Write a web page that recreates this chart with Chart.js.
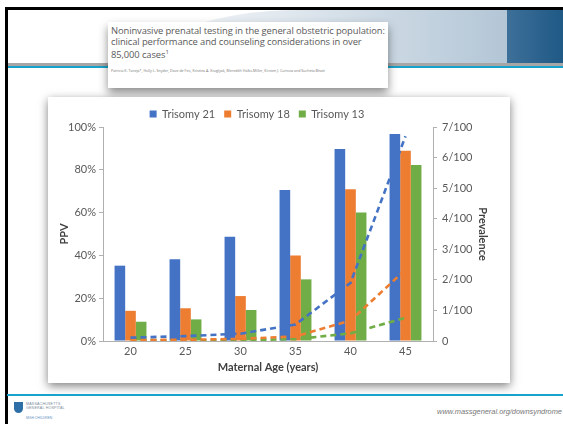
<!DOCTYPE html>
<html>
<head>
<meta charset="utf-8">
<script src="https://cdn.jsdelivr.net/npm/chart.js@4.4.1/dist/chart.umd.min.js"></script>
<style>
  html, body { margin:0; padding:0; }
  body { width:563px; height:424px; position:relative; overflow:hidden; background:#fff; font-family: Lato, "Liberation Sans", sans-serif; }
  .abs { position:absolute; }
  #frameTop { left:5px; top:7px; width:558px; height:3px; background:#000; }
  #frameLeft { left:5px; top:7px; width:2.5px; height:417px; background:#000; }
  #lightBand { left:150px; top:10px; width:357px; height:53px; background:linear-gradient(to right, #f4f7f9 0%, #dfe7ee 40%, #b3c6d6 100%); border-top-left-radius:150px 53px; }
  #darkBox { left:507px; top:10px; width:56px; height:53px; background:linear-gradient(to right, #3d7099, #1f5985); }
  #grayLine { left:7px; top:63px; width:556px; height:2.5px; background:#a6a6a6; }
  #blueLine { left:7px; top:65.5px; width:556px; height:2.2px; background:#18a3cc; }
  #titleBox { left:108px; top:22px; width:280px; height:66px; background:#fff; box-shadow:0 5px 9px rgba(0,0,0,0.45); }
  #titleText { left:3px; top:4px; font-family:"Open Sans", sans-serif; font-size:9.4px; line-height:10.6px; color:#5a5a5a; white-space:nowrap; letter-spacing:-0.1px; }
  #authors { left:3px; top:46px; font-family:"Open Sans", sans-serif; font-size:3.6px; color:#777; white-space:nowrap; }
  #card { left:48px; top:97px; width:462px; height:286px; background:#fff; box-shadow:0 3px 9px rgba(0,0,0,0.5); }
  #bottomLine { left:7px; top:394px; width:556px; height:2px; background:#18a3cc; }
  #url { right:1px; top:407px; font-family:"Liberation Sans", Arial, sans-serif; font-style:italic; font-size:7.4px; color:#777; white-space:nowrap; }
  #shield { left:14px; top:402px; width:9px; height:11px; background:#2f6fa8; border-radius:0 0 5px 5px; }
  #logoText { left:26px; top:402px; font-family:"Liberation Sans", Arial, sans-serif; font-size:3.6px; line-height:4.2px; color:#7a8a9a; white-space:nowrap; letter-spacing:0.2px; }
  #logoSub { left:26px; top:416px; font-family:"Liberation Sans", Arial, sans-serif; font-size:3.4px; color:#5f8fbf; white-space:nowrap; }
  canvas { display:block; }
</style>
</head>
<body>
<div id="frameTop" class="abs"></div>
<div id="lightBand" class="abs"></div>
<div id="darkBox" class="abs"></div>
<div id="grayLine" class="abs"></div>
<div id="blueLine" class="abs"></div>
<div id="frameLeft" class="abs"></div>
<div id="titleBox" class="abs">
  <div id="titleText" class="abs">Noninvasive prenatal testing in the general obstetric population:<br>clinical performance and counseling considerations in over<br>85,000 cases<sup style="font-size:6px">1</sup></div>
  <div id="authors" class="abs">Patricia K. Taneja*, Holly L. Snyder, Dave de Feo, Kristina A. Kruglyak, Meredith Halks-Miller, Kirsten J. Curnow and Sucheta Bhatt</div>
</div>
<div id="card" class="abs"><canvas id="c" width="462" height="286"></canvas></div>
<div id="bottomLine" class="abs"></div>
<div id="shield" class="abs"></div>
<div id="logoText" class="abs">MASSACHUSETTS<br>GENERAL HOSPITAL</div>
<div id="logoSub" class="abs">MGH CHILDREN</div>
<div id="url" class="abs">www.massgeneral.org/downsyndrome</div>
<script>
const categories = ['20', '25', '30', '35', '40', '45'];
const seriesNames = ['Trisomy 21', 'Trisomy 18', 'Trisomy 13'];
const ppvT21 = [35.2, 38.2, 48.7, 70.6, 89.7, 96.7];
const ppvT18 = [14.1, 15.3, 21.0, 39.9, 70.9, 88.9];
const ppvT13 = [9.0, 10.1, 14.5, 28.8, 60.1, 82.2];
const prevT21 = [0.11, 0.16, 0.24, 0.54, 1.9, 6.7];
const prevT18 = [0.04, 0.04, 0.07, 0.15, 0.67, 2.33];
const prevT13 = [0.02, 0.02, 0.03, 0.06, 0.25, 0.76];
const ppvTickValues = [0, 20, 40, 60, 80, 100];
const prevTickLabels = ['0', '1/100', '2/100', '3/100', '4/100', '5/100', '6/100', '7/100'];
const colors = ['#4472C4', '#ED7D31', '#70AD47'];

const ppvSeries = [ppvT21, ppvT18, ppvT13];
const prevSeries = [prevT21, prevT18, prevT13];

const datasets = [];
ppvSeries.forEach((d, i) => datasets.push({
  type: 'bar', label: seriesNames[i], data: d, backgroundColor: colors[i],
  yAxisID: 'y', order: 1, barPercentage: 1.0, categoryPercentage: 0.58
}));
prevSeries.forEach((d, i) => datasets.push({
  type: 'line', label: seriesNames[i] + ' prevalence', data: d, borderColor: colors[i],
  backgroundColor: colors[i], borderWidth: 2.6, borderDash: [6, 4], pointRadius: 0,
  tension: 0, fill: false, yAxisID: 'y1', order: 0
}));

const tickFont = { family: 'Lato, "Liberation Sans", sans-serif', size: 11 };
const titleFont = { family: 'Lato, "Liberation Sans", sans-serif', size: 11, weight: 'bold' };
const axisGray = '#b0b0b0';
const textGray = '#595959';

const legendShift = {
  id: 'legendShift',
  afterLayout(chart) {
    const lg = chart.legend;
    if (!lg) return;
    lg.left -= 22; lg.right -= 22;
    lg.top += 2.5; lg.bottom += 2.5;
  }
};

new Chart(document.getElementById('c'), {
  data: { labels: categories, datasets },
  plugins: [legendShift],
  options: {
    responsive: false,
    animation: false,
    devicePixelRatio: 1,
    layout: { padding: { top: 0, left: 0, right: 0, bottom: 0 } },
    plugins: {
      legend: {
        position: 'top',
        labels: {
          filter: (item) => item.datasetIndex < 3,
          boxWidth: 7, boxHeight: 7, padding: 9,
          color: textGray, font: tickFont
        }
      },
      tooltip: { enabled: false }
    },
    scales: {
      x: {
        grid: { display: false, drawTicks: false, tickLength: 0 },
        border: { display: true, color: axisGray, width: 1 },
        ticks: { color: textGray, font: tickFont, padding: 4 },
        title: { display: true, text: 'Maternal Age (years)', color: '#404040', font: titleFont, padding: { top: 2, bottom: 9 } },
        afterFit: (s) => { s.height = 42; }
      },
      y: {
        position: 'left', min: 0, max: 100,
        afterBuildTicks: (s) => { s.ticks = ppvTickValues.map(v => ({ value: v })); },
        grid: { display: true, drawOnChartArea: false, drawTicks: true, tickLength: 4, color: axisGray },
        border: { display: true, color: axisGray, width: 1 },
        ticks: { color: textGray, font: tickFont, padding: 3, callback: (v) => v + '%' },
        title: { display: true, text: 'PPV', color: '#404040', font: titleFont, padding: { top: 10, bottom: 0 } },
        afterFit: (s) => { s.width = 55; }
      },
      y1: {
        position: 'right', min: 0, max: 7,
        afterBuildTicks: (s) => { s.ticks = prevTickLabels.map((t, i) => ({ value: i })); },
        grid: { display: true, drawOnChartArea: false, drawTicks: true, tickLength: 4, color: axisGray },
        border: { display: true, color: axisGray, width: 1 },
        ticks: { color: textGray, font: tickFont, padding: 5, callback: (v) => prevTickLabels[v] },
        title: { display: true, text: 'Prevalence', color: '#404040', font: titleFont, padding: { top: 21, bottom: 0 } },
        afterFit: (s) => { s.width = 77; }
      }
    }
  }
});
</script>
</body>
</html>
